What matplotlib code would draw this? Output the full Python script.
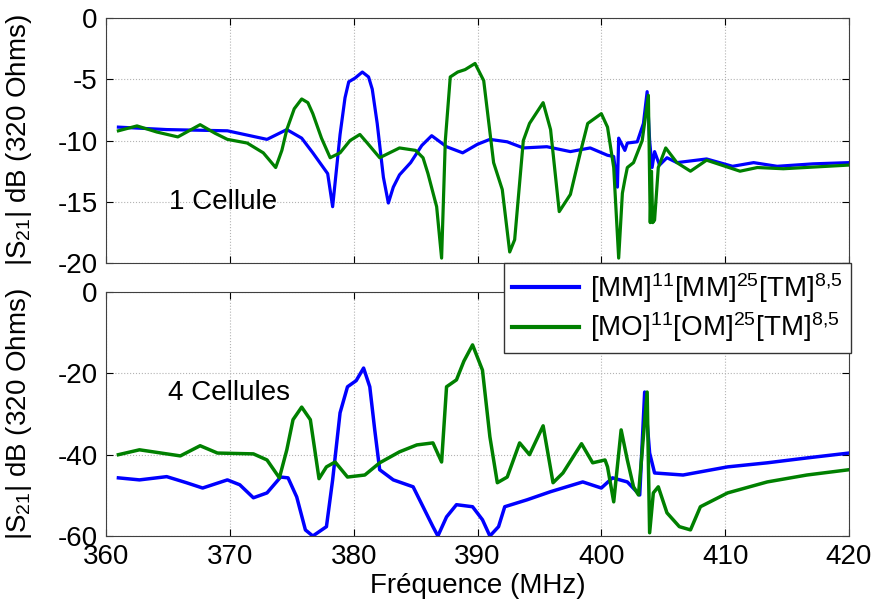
import numpy as np
import matplotlib
matplotlib.use("Agg")
import matplotlib.pyplot as plt

plt.rcParams['font.family'] = ['Liberation Sans', 'DejaVu Sans']
plt.rcParams['mathtext.fontset'] = 'custom'
plt.rcParams['mathtext.rm'] = 'Liberation Sans'
plt.rcParams['mathtext.it'] = 'Liberation Sans:italic'
plt.rcParams['axes.unicode_minus'] = False

# ---- data ----
# 1 cellule, MM structure (blue)
f1_mm = [361.0, 364.9, 369.8, 373.0, 374.6, 375.8, 376.7, 377.9, 378.3, 378.9,
         379.3, 379.6, 380.1, 380.7, 381.2, 381.5, 381.9, 382.4, 382.8, 383.2,
         383.7, 384.6, 385.5, 386.3, 387.5, 388.8, 390.0, 391.0, 392.4,
         393.7, 395.6, 397.5, 399.1, 400.5, 401.0, 401.3, 401.4, 401.9, 402.1,
         402.9, 403.4, 403.7, 403.9, 404.1, 404.3, 404.7, 405.3, 406.1, 408.5,
         410.6, 412.3, 414.2, 417.1, 420.0]
s1_mm = [-8.9, -9.1, -9.2, -9.9, -9.1, -9.8, -11.0, -12.7, -15.4, -9.5,
         -6.5, -5.2, -4.9, -4.4, -4.8, -5.8, -8.6, -13.0, -15.1, -13.8,
         -12.8, -11.8, -10.4, -9.6, -10.5, -11.0, -10.3, -9.9, -10.1,
         -10.6, -10.5, -10.9, -10.6, -11.2, -11.3, -13.8, -9.8, -10.8, -10.2,
         -10.1, -8.6, -6.0, -10.0, -12.2, -10.9, -12.0, -11.4, -11.8, -11.5,
         -12.1, -11.8, -12.1, -11.9, -11.8]

# 1 cellule, MO structure (green)
f1_mo = [361.0, 362.5, 364.1, 365.8, 367.6, 368.8, 369.8, 371.4, 372.7, 373.7,
         374.2, 374.6, 375.2, 375.8, 376.3, 376.7, 377.4, 378.1, 378.9, 379.7,
         380.5, 381.1, 382.1, 383.7, 385.0, 385.6, 386.0, 386.7, 387.1, 387.4,
         387.8, 388.4, 389.0, 389.8, 390.5, 391.3, 392.0, 392.6, 393.0, 393.7,
         394.2, 395.3, 395.9, 396.6, 397.5, 398.3, 398.9, 400.0, 400.5, 401.0,
         401.4, 401.7, 401.9, 402.1, 402.6, 403.3, 403.8, 403.95, 404.05, 404.15,
         404.3, 404.6, 405.2, 406.1, 407.2, 408.5, 411.2, 412.6, 414.7, 420.0]
s1_mo = [-9.2, -8.8, -9.3, -9.7, -8.7, -9.4, -9.9, -10.2, -11.0, -12.2,
         -10.8, -9.1, -7.4, -6.6, -6.9, -7.8, -9.8, -11.4, -11.0, -10.0,
         -9.5, -10.2, -11.4, -10.6, -10.8, -11.4, -12.7, -15.4, -19.6, -10.0,
         -4.8, -4.4, -4.2, -3.7, -5.1, -11.8, -14.0, -19.1, -18.1, -10.0,
         -8.6, -6.9, -9.1, -15.8, -14.4, -11.0, -8.6, -7.8, -8.9, -12.2,
         -19.6, -14.3, -13.2, -12.2, -11.8, -10.0, -6.3, -16.7, -12.5, -16.7,
         -16.5, -12.2, -10.6, -11.8, -12.5, -11.6, -12.5, -12.2, -12.3, -12.0]

# 4 cellules, MM structure (blue)
f4_mm = [361.0, 362.7, 364.9, 366.5, 367.8, 369.8, 370.8, 371.9, 373.0, 374.1,
         374.7, 375.4, 376.1, 376.7, 377.8, 378.3, 378.9, 379.5, 380.2, 380.8,
         381.3, 381.7, 382.1, 383.2, 384.8, 385.6, 386.4, 386.8, 387.5, 388.3,
         389.6, 390.4, 391.0, 391.7, 392.2, 394.0, 395.9, 398.5, 400.0, 400.9,
         402.1, 403.1, 403.5, 403.9, 404.3, 406.6, 410.2, 413.4, 416.6, 420.0]
s4_mm = [-45.7, -46.2, -45.4, -46.9, -48.2, -46.2, -47.4, -50.6, -49.4, -45.5,
         -45.7, -50.4, -58.5, -60.0, -57.7, -46.2, -29.7, -23.3, -21.8, -18.7,
         -23.3, -33.9, -43.7, -46.2, -47.9, -52.8, -57.7, -60.0, -55.3, -52.3,
         -52.8, -56.0, -60.0, -57.7, -52.8, -51.1, -49.1, -46.7, -48.2, -45.7,
         -46.7, -49.9, -24.6, -39.6, -44.5, -45.0, -43.0, -42.0, -40.8, -39.6]

# 4 cellules, MO structure (green)
f4_mo = [361.0, 362.7, 366.0, 367.6, 369.0, 371.9, 373.0, 374.0, 374.6, 375.1,
         375.8, 376.5, 377.2, 377.8, 378.5, 379.5, 380.9, 382.1, 383.7, 385.1,
         386.4, 387.1, 387.5, 388.3, 388.9, 389.6, 390.4, 391.0, 391.6, 392.4,
         393.4, 394.2, 395.3, 396.1, 396.9, 398.4, 399.3, 400.3, 400.5, 401.0,
         401.6, 402.1, 402.6, 403.0, 403.7, 403.9, 404.2, 404.6, 405.3, 406.3,
         407.2, 408.0, 410.2, 413.4, 416.6, 420.0]
s4_mo = [-40.0, -38.8, -40.3, -37.8, -39.6, -39.8, -41.3, -45.7, -38.8, -31.4,
         -28.3, -31.4, -45.9, -43.0, -41.8, -45.5, -45.0, -42.0, -39.3, -37.6,
         -37.1, -41.8, -23.3, -21.6, -17.0, -13.0, -19.2, -35.6, -46.9, -45.5,
         -37.1, -40.0, -32.9, -46.9, -44.5, -37.3, -42.0, -41.3, -43.0, -51.6,
         -33.9, -41.3, -47.9, -49.9, -24.6, -59.2, -49.4, -47.9, -54.3, -57.7,
         -58.5, -52.8, -49.4, -46.7, -45.0, -43.7]

labels = [r'[MM]$^{11}$[MM]$^{25}$[TM]$^{8{,}5}$',
          r'[MO]$^{11}$[OM]$^{25}$[TM]$^{8{,}5}$']
c_mm = (0, 0, 1)
c_mo = (0, 0.5, 0)

# ---- figure ----
fig = plt.figure(figsize=(8.72, 6.06), dpi=100)
ax1 = fig.add_axes([0.1216, 0.566, 0.852, 0.404])
ax2 = fig.add_axes([0.1216, 0.1155, 0.852, 0.4026])

ax1.plot(f1_mm, s1_mm, color=c_mm, linewidth=2.3)
ax1.plot(f1_mo, s1_mo, color=c_mo, linewidth=2.3)
ax1.set_ylim(-20, 0)
ax1.set_yticks([-20, -15, -10, -5, 0])
ax1.text(365.1, -15.0, '1 Cellule', fontsize=20, ha='left', va='center')

l1, = ax2.plot(f4_mm, s4_mm, color=c_mm, linewidth=2.5, label=labels[0])
l2, = ax2.plot(f4_mo, s4_mo, color=c_mo, linewidth=2.5, label=labels[1])
ax2.set_ylim(-60, 0)
ax2.set_yticks([-60, -40, -20, 0])
ax2.text(365.0, -24.8, '4 Cellules', fontsize=20, ha='left', va='center')
ax2.set_xlabel('Fréquence (MHz)', fontsize=20, labelpad=2)

for ax in (ax1, ax2):
    ax.set_xlim(360, 420)
    ax.set_xticks(np.arange(360, 421, 10))
    ax.grid(True, linestyle=':', color='0.7', linewidth=0.8)
    ax.tick_params(direction='in', top=True, right=True, labelsize=20, length=5, pad=6)
    ax.set_ylabel(r'|S$_{21}$| dB (320 Ohms)', fontsize=20)
    ax.yaxis.set_label_coords(-0.097, 0.5)
    for sp in ax.spines.values():
        sp.set_color('0.25')
ax1.tick_params(labelbottom=False)

leg = ax2.legend(handles=[l1, l2], loc='upper right', bbox_to_anchor=(0.976, 0.566),
                 bbox_transform=fig.transFigure, fontsize=20, frameon=True, fancybox=False,
                 edgecolor='0.2', framealpha=1, borderaxespad=0, handlelength=2.4,
                 borderpad=0.3, labelspacing=0.2, handletextpad=0.4)
leg.get_frame().set_linewidth(1)
for h in leg.get_lines():
    h.set_linewidth(3)

plt.savefig('out.png', dpi=100)
